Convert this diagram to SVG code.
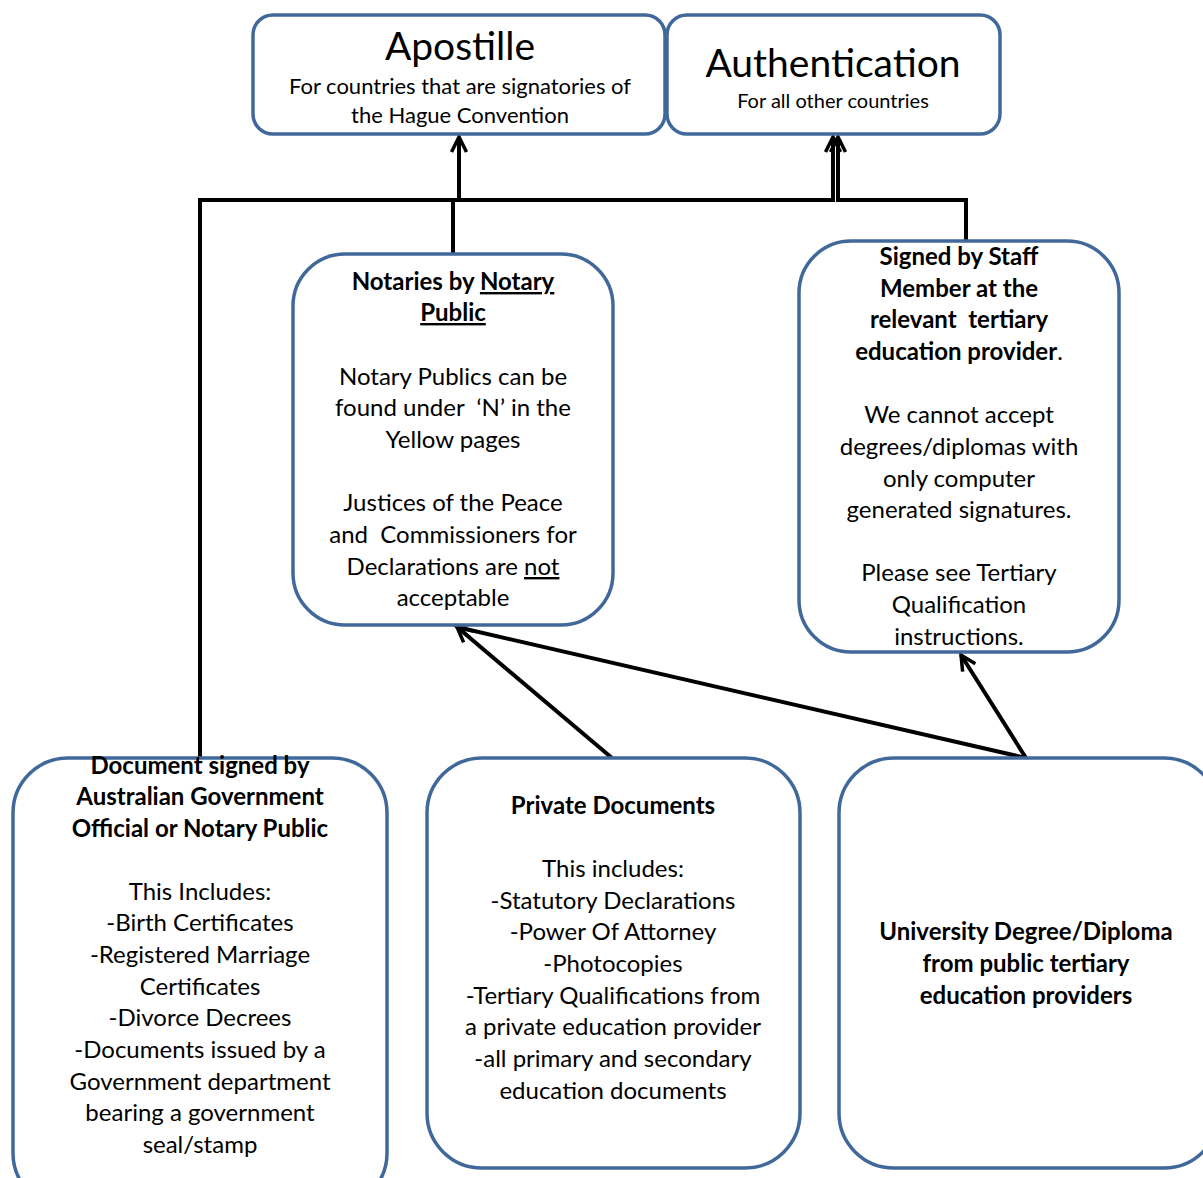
<svg xmlns="http://www.w3.org/2000/svg" width="1203" height="1178" viewBox="0 0 1203 1178">
<style>
.box{fill:#fff;stroke:#41689a;stroke-width:3.5}
.c{fill:none;stroke:#000;stroke-width:4}
text{font-family:Lato,"Liberation Sans",sans-serif;fill:#000;text-anchor:middle;font-size:24px}
.b{font-weight:bold}
.u{text-decoration:underline}
</style>
<defs>
<marker id="ah" markerUnits="userSpaceOnUse" markerWidth="24" markerHeight="24" viewBox="0 0 24 24" refX="20" refY="12" orient="auto">
<path d="M5,4.5 L20,12 L5,19.5" fill="none" stroke="#000" stroke-width="3.5"/>
</marker>
</defs>
<rect width="1203" height="1178" fill="#fff"/>
<g id="connectors">
<path class="c" d="M459,200 V137" marker-end="url(#ah)"/>
<path class="c" d="M200,758 V200 H833 V137" marker-end="url(#ah)"/>
<path class="c" d="M453,254 V200"/>
<path class="c" d="M966,254 V200 H838 V137" marker-end="url(#ah)"/>
<path class="c" d="M612,758 L457,627" marker-end="url(#ah)"/>
<path class="c" d="M1026,758 L457,627" marker-end="url(#ah)"/>
<path class="c" d="M1026,758 L961,655" marker-end="url(#ah)"/>
</g>
<g id="apostille">
<rect class="box" x="253" y="15" width="412" height="119" rx="20"/>
<text x="460" y="60" style="font-size:39px">Apostille</text>
<text x="460" y="94" style="font-size:22px">For countries that are signatories of</text>
<text x="460" y="123" style="font-size:22px">the Hague Convention</text>
</g>
<g id="authentication">
<rect class="box" x="667" y="15" width="333" height="119" rx="20"/>
<text x="833" y="77" style="font-size:39px">Authentication</text>
<text x="833" y="108" style="font-size:20px">For all other countries</text>
</g>
<g id="notaries">
<rect class="box" x="293" y="254" width="320" height="371" rx="52"/>
<text x="453" y="290" class="b">Notaries by <tspan class="u">Notary</tspan></text>
<text x="453" y="321" class="b u">Public</text>
<text x="453" y="385">Notary Publics can be</text>
<text x="453" y="416" xml:space="preserve">found under  ‘N’ in the</text>
<text x="453" y="448">Yellow pages</text>
<text x="453" y="511">Justices of the Peace</text>
<text x="453" y="543" xml:space="preserve">and  Commissioners for</text>
<text x="453" y="575">Declarations are <tspan class="u">not</tspan></text>
<text x="453" y="606">acceptable</text>
</g>
<g id="staff">
<rect class="box" x="799" y="241" width="320" height="411" rx="52"/>
<text x="959" y="265" class="b">Signed by Staff</text>
<text x="959" y="297" class="b">Member at the</text>
<text x="959" y="328" class="b" xml:space="preserve">relevant  tertiary</text>
<text x="959" y="360"><tspan class="b">education provider</tspan>.</text>
<text x="959" y="423">We cannot accept</text>
<text x="959" y="455">degrees/diplomas with</text>
<text x="959" y="487">only computer</text>
<text x="959" y="518">generated signatures.</text>
<text x="959" y="581">Please see Tertiary</text>
<text x="959" y="613">Qualification</text>
<text x="959" y="645">instructions.</text>
</g>
<g id="document">
<rect class="box" x="13" y="758" width="374" height="450" rx="55"/>
<text x="200" y="774" class="b">Document signed by</text>
<text x="200" y="805" class="b">Australian Government</text>
<text x="200" y="837" class="b">Official or Notary Public</text>
<text x="200" y="900">This Includes:</text>
<text x="200" y="931">-Birth Certificates</text>
<text x="200" y="963">-Registered Marriage</text>
<text x="200" y="995">Certificates</text>
<text x="200" y="1026">-Divorce Decrees</text>
<text x="200" y="1058">-Documents issued by a</text>
<text x="200" y="1090">Government department</text>
<text x="200" y="1121">bearing a government</text>
<text x="200" y="1153">seal/stamp</text>
</g>
<g id="private">
<rect class="box" x="427" y="758" width="373" height="410" rx="55"/>
<text x="613" y="814" class="b">Private Documents</text>
<text x="613" y="877">This includes:</text>
<text x="613" y="909">-Statutory Declarations</text>
<text x="613" y="940">-Power Of Attorney</text>
<text x="613" y="972">-Photocopies</text>
<text x="613" y="1004">-Tertiary Qualifications from</text>
<text x="613" y="1035">a private education provider</text>
<text x="613" y="1067">-all primary and secondary</text>
<text x="613" y="1099">education documents</text>
</g>
<g id="university">
<rect class="box" x="839" y="758" width="380" height="410" rx="55"/>
<text x="1026" y="940" class="b">University Degree/Diploma</text>
<text x="1026" y="972" class="b">from public tertiary</text>
<text x="1026" y="1004" class="b">education providers</text>
</g>
</svg>
